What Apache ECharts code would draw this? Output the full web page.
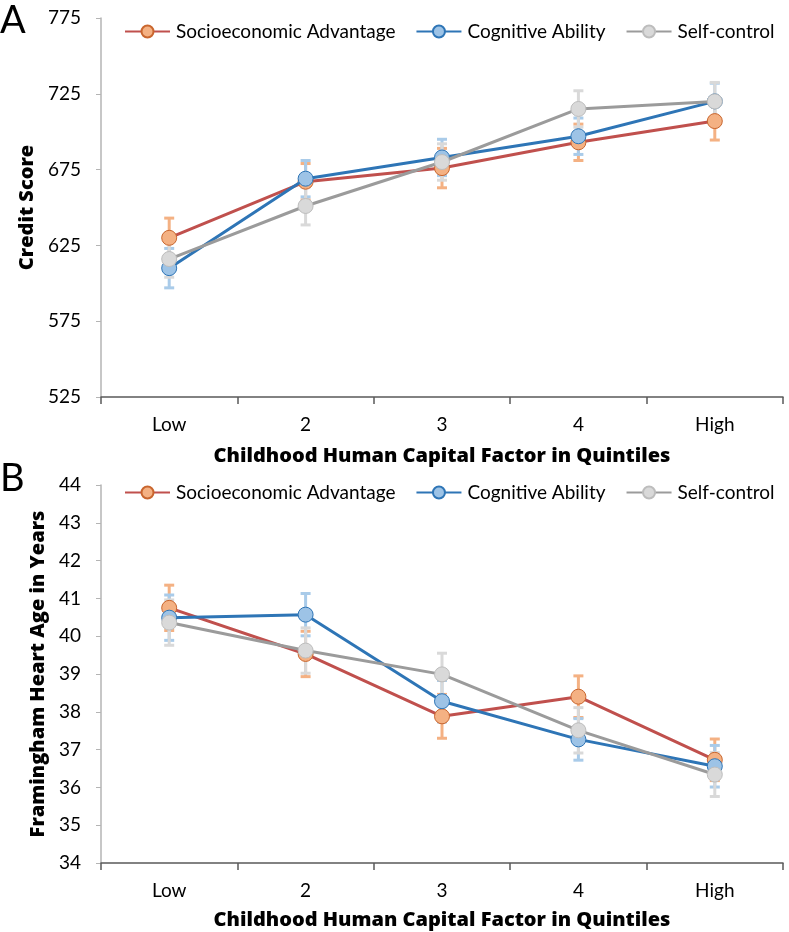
<!DOCTYPE html>
<html>
<head>
<meta charset="utf-8">
<script src="https://cdn.jsdelivr.net/npm/echarts@6/dist/echarts.min.js"></script>
<style>
html,body{margin:0;padding:0;background:#fff;}
#c{width:789px;height:932px;}
</style>
</head>
<body>
<div id="c"></div>
<script>
// ---- data ----
const categories = ['Low', '2', '3', '4', 'High'];
const seriesNames = ['Socioeconomic Advantage', 'Cognitive Ability', 'Self-control'];

// Panel A: Credit Score
const creditSES  = [630, 667, 676, 693, 707];
const creditCog  = [610, 669, 683, 697, 720];
const creditSelf = [616, 651, 680, 715, 720];
const creditSESErr  = [13, 12, 13, 12, 12.5];
const creditCogErr  = [13, 12, 12, 12, 12];
const creditSelfErr = [12, 12.5, 12, 12, 12.5];
const creditTicks = [525, 575, 625, 675, 725, 775];

// Panel B: Framingham Heart Age
const heartSES  = [40.75, 39.53, 37.88, 38.40, 36.73];
const heartCog  = [40.49, 40.57, 38.28, 37.27, 36.56];
const heartSelf = [40.36, 39.62, 38.99, 37.51, 36.34];
const heartSESErr  = [0.6, 0.6, 0.58, 0.55, 0.55];
const heartCogErr  = [0.6, 0.56, 0.55, 0.55, 0.55];
const heartSelfErr = [0.6, 0.6, 0.56, 0.6, 0.58];
const heartTicks = [34, 35, 36, 37, 38, 39, 40, 41, 42, 43, 44];

// ---- styles ----
const FONT = 'Lato';
const BOLDFONT = 'Open Sans';
const lineColors   = ['#C0504D', '#2E75B6', '#9B9B9B'];
const markerFill   = ['#F4B183', '#9DC3E6', '#D9D9D9'];
const markerBorder = ['#C9662E', '#2E75B6', '#BDBDBD'];
const errColors    = ['#F4B183', '#A9CBE9', '#D9D9D9'];

function errSeries(vals, errs, idx, gi) {
  return {
    type: 'custom',
    xAxisIndex: gi, yAxisIndex: gi,
    z: 1,
    silent: true,
    data: vals.map((v, i) => [i, v - errs[i], v + errs[i]]),
    renderItem: function (params, api) {
      const x = api.value(0);
      const lo = api.coord([x, api.value(1)]);
      const hi = api.coord([x, api.value(2)]);
      const hw = 5;
      const st = { stroke: errColors[idx], lineWidth: 3 };
      return {
        type: 'group',
        children: [
          { type: 'line', shape: { x1: hi[0], y1: hi[1], x2: lo[0], y2: lo[1] }, style: st },
          { type: 'line', shape: { x1: hi[0] - hw, y1: hi[1], x2: hi[0] + hw, y2: hi[1] }, style: st },
          { type: 'line', shape: { x1: lo[0] - hw, y1: lo[1], x2: lo[0] + hw, y2: lo[1] }, style: st }
        ]
      };
    }
  };
}
function lineSeries(vals, idx, gi) {
  return {
    name: seriesNames[idx],
    type: 'line',
    xAxisIndex: gi, yAxisIndex: gi,
    z: 3 + idx,
    data: vals,
    symbol: 'circle',
    symbolSize: 15,
    lineStyle: { color: lineColors[idx], width: 3 },
    itemStyle: { color: markerFill[idx], borderColor: markerBorder[idx], borderWidth: 1 },
    emphasis: { disabled: true },
    animation: false
  };
}

const tickText = { color: '#000', fontFamily: FONT, fontSize: 19 };
const titleText = { color: '#000', fontFamily: BOLDFONT, fontWeight: 800, fontSize: 20 };
function xAxis(gi, gap) {
  return {
    type: 'category', gridIndex: gi, data: categories,
    boundaryGap: true,
    axisLine: { lineStyle: { color: '#5A5A5A', width: 1.5 } },
    axisTick: { show: true, length: 7, lineStyle: { color: '#5A5A5A', width: 1.5 } },
    axisLabel: Object.assign({ margin: 18 }, tickText),
    name: 'Childhood Human Capital Factor in Quintiles',
    nameLocation: 'middle', nameGap: gap,
    nameTextStyle: titleText
  };
}
function yAxis(gi, ticks, name, gap) {
  return {
    type: 'value', gridIndex: gi,
    min: ticks[0], max: ticks[ticks.length - 1], interval: ticks[1] - ticks[0],
    axisLine: { show: true, lineStyle: { color: '#B4B4B4', width: 1.5 } },
    axisTick: { show: true, length: 5, lineStyle: { color: '#B4B4B4' } },
    splitLine: { show: false },
    axisLabel: Object.assign({ margin: 20 }, tickText),
    name: name, nameLocation: 'middle', nameGap: gap, nameRotate: 90,
    nameTextStyle: titleText
  };
}
function legend(top) {
  return {
    top: top, left: 119,
    itemWidth: 45, itemHeight: 15, itemGap: 20,
    data: seriesNames,
    textStyle: { color: '#000', fontFamily: FONT, fontSize: 19, padding: [0, 0, 0, 1] }
  };
}

const chart = echarts.init(document.getElementById('c'), null, { renderer: 'canvas' });
chart.setOption({
  animation: false,
  backgroundColor: '#fff',
  grid: [
    { left: 101, top: 18, width: 682, height: 379 },
    { left: 101, top: 485, width: 682, height: 378 }
  ],
  legend: [legend(17), legend(478)],
  xAxis: [xAxis(0, 49), xAxis(1, 47)],
  yAxis: [yAxis(0, creditTicks, 'Credit Score', 48), yAxis(1, heartTicks, 'Framingham Heart Age in Years', 43)],
  graphic: [
    { type: 'text', left: 0, top: 2, style: { text: 'A', fontFamily: FONT, fontSize: 38, fill: '#000' } },
    { type: 'text', left: 0, top: 460, style: { text: 'B', fontFamily: FONT, fontSize: 38, fill: '#000' } }
  ],
  series: [
    errSeries(creditSES, creditSESErr, 0, 0),
    errSeries(creditCog, creditCogErr, 1, 0),
    errSeries(creditSelf, creditSelfErr, 2, 0),
    lineSeries(creditSES, 0, 0),
    lineSeries(creditCog, 1, 0),
    lineSeries(creditSelf, 2, 0),
    errSeries(heartSES, heartSESErr, 0, 1),
    errSeries(heartCog, heartCogErr, 1, 1),
    errSeries(heartSelf, heartSelfErr, 2, 1),
    lineSeries(heartSES, 0, 1),
    lineSeries(heartCog, 1, 1),
    lineSeries(heartSelf, 2, 1)
  ]
});
</script>
</body>
</html>
